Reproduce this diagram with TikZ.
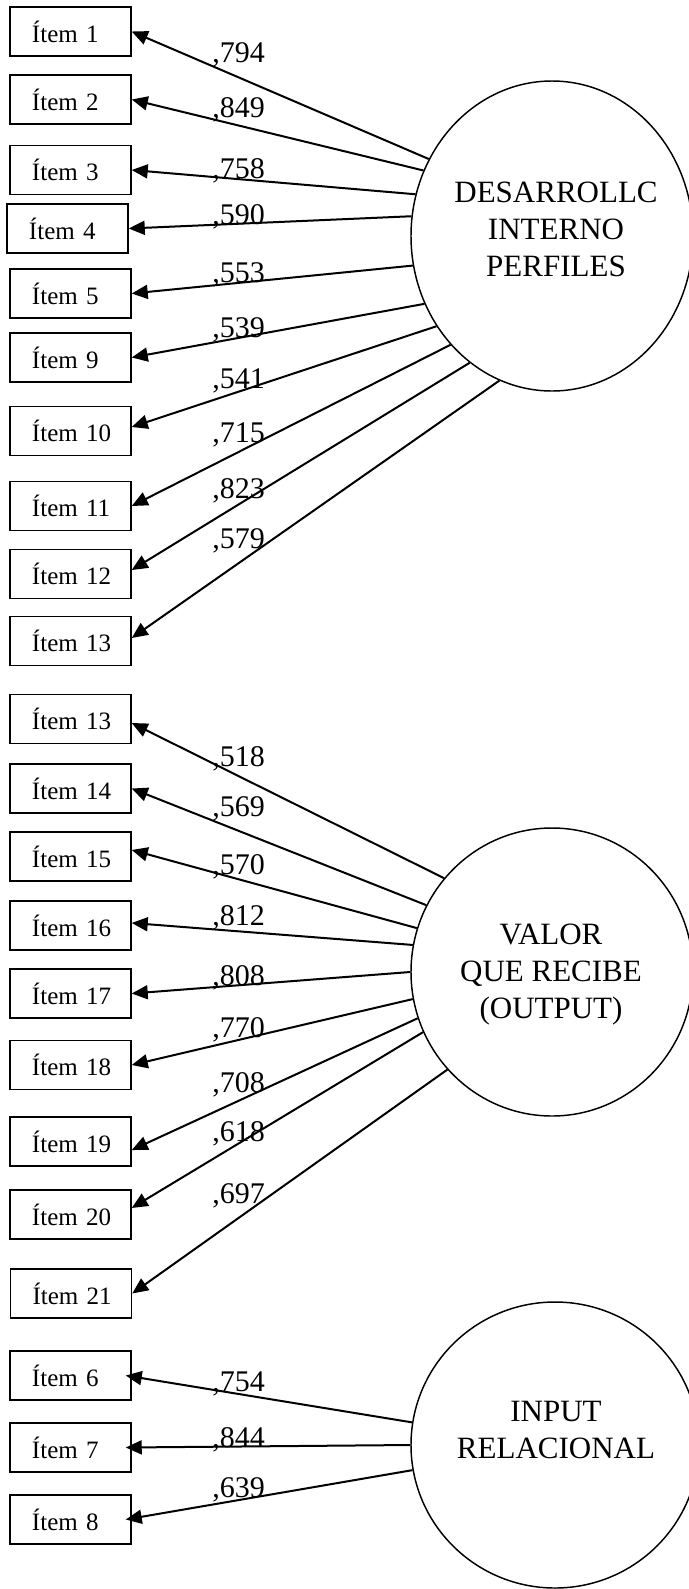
\documentclass[tikz,border=0pt]{standalone}
\usepackage{fontspec}
\setmainfont{Liberation Serif}
\usetikzlibrary{arrows.meta,shapes.geometric}
\begin{document}
\begin{tikzpicture}[x=0.75pt,y=-0.75pt,
  itembox/.style={draw,line width=1.1pt,text width=90.75pt,minimum height=36.75pt,
    inner xsep=0pt,inner ysep=0pt,align=left,font=\fontsize{18.75}{20}\selectfont},
  factor/.style={draw,ellipse,line width=1.1pt,inner sep=0pt},
  factortext/.style={align=center,inner sep=0pt,font=\fontsize{23.25}{27.75}\selectfont},
  loading/.style={line width=1.5pt,-{Triangle[length=12pt,width=10.5pt]}},
  weight/.style={anchor=base west,inner sep=0pt,font=\fontsize{22.5}{24}\selectfont}]

\useasboundingbox (0,0) rectangle (689,1589);

% ---- latent factors ----
\node[factor,minimum width=211.5pt,minimum height=232.5pt] (c1) at (552,236) {};
\node[factortext] (c1t) at (556,229) {DESARROLLC\\INTERNO\\PERFILES};
\node[factor,minimum width=211.5pt,minimum height=216pt] (c2) at (552,972) {};
\node[factortext] (c2t) at (551,975) {VALOR\\QUE RECIBE\\(OUTPUT)};
\node[factor,minimum width=216pt,minimum height=214.5pt] (c3) at (555,1445) {};
\node[factortext] (c3t) at (556,1430) {INPUT\\RELACIONAL};

% ---- indicators of the first factor ----
\node[itembox] (i1)  at (70.5,31.5)  {\hspace*{16.5pt}Ítem 1};
\node[itembox] (i2)  at (70.5,99.5)  {\hspace*{16.5pt}Ítem 2};
\node[itembox] (i3)  at (70.5,170)   {\hspace*{16.5pt}Ítem 3};
\node[itembox] (i4)  at (67.5,228.5) {\hspace*{16.5pt}Ítem 4};
\node[itembox] (i5)  at (70.5,293.5) {\hspace*{16.5pt}Ítem 5};
\node[itembox] (i9)  at (70.5,357.5) {\hspace*{16.5pt}Ítem 9};
\node[itembox] (i10) at (70.5,431)   {\hspace*{16.5pt}Ítem 10};
\node[itembox] (i11) at (70.5,506)   {\hspace*{16.5pt}Ítem 11};
\node[itembox] (i12) at (70.5,574)   {\hspace*{16.5pt}Ítem 12};
\node[itembox] (i13) at (70.5,641)   {\hspace*{16.5pt}Ítem 13};

% ---- indicators of the second factor ----
\node[itembox] (j13) at (70.5,719)    {\hspace*{16.5pt}Ítem 13};
\node[itembox] (j14) at (70.5,788.5)  {\hspace*{16.5pt}Ítem 14};
\node[itembox] (j15) at (70.5,856.5)  {\hspace*{16.5pt}Ítem 15};
\node[itembox] (j16) at (70.5,925.5)  {\hspace*{16.5pt}Ítem 16};
\node[itembox] (j17) at (70.5,993.5)  {\hspace*{16.5pt}Ítem 17};
\node[itembox] (j18) at (70.5,1065)   {\hspace*{16.5pt}Ítem 18};
\node[itembox] (j19) at (70.5,1141.5) {\hspace*{16.5pt}Ítem 19};
\node[itembox] (j20) at (70.5,1214.5) {\hspace*{16.5pt}Ítem 20};
\node[itembox] (j21) at (71,1293.5)   {\hspace*{16.5pt}Ítem 21};

% ---- indicators of the third factor ----
\node[itembox] (k6) at (70.5,1375.5) {\hspace*{16.5pt}Ítem 6};
\node[itembox] (k7) at (70.5,1447.5) {\hspace*{16.5pt}Ítem 7};
\node[itembox] (k8) at (70.5,1519.5) {\hspace*{16.5pt}Ítem 8};

% ---- loadings: first factor ----
\draw[loading] (c1.148.7) -- (i1.east);
\draw[loading] (c1.153.1) -- (i2.east);
\draw[loading] (c1.163.5) -- (i3.east);
\draw[loading] (c1.172.5) -- (i4.east);
\draw[loading] (c1.192.3) -- (i5.east);
\draw[loading] (c1.208.9) -- (i9.east);
\draw[loading] (c1.218.2) -- ([yshift=3pt]i10.east);
\draw[loading] (c1.227.7) -- (i11.east);
\draw[loading] (c1.237.2) -- ([yshift=3pt]i12.east);
\draw[loading] (c1.250)   -- ([yshift=2.25pt]i13.east);

% ---- loadings: second factor ----
\draw[loading] (c2.139.8) -- ([yshift=-3pt]j13.east);
\draw[loading] (c2.152.3) -- (j14.east);
\draw[loading] (c2.162.8) -- ([yshift=4.9pt]j15.east);
\draw[loading] (c2.169.2) -- ([yshift=1.9pt]j16.east);
\draw[loading] (c2.180)   -- (j17.east);
\draw[loading] (c2.191.2) -- (j18.east);
\draw[loading] (c2.199.2) -- ([yshift=-6.4pt]j19.east);
\draw[loading] (c2.205.3) -- ([yshift=4.9pt]j20.east);
\draw[loading] (c2.223.1) -- (j21.east);

% ---- loadings: third factor ----
\draw[loading] (c3.171.3) -- ([xshift=-4.5pt]k6.east);
\draw[loading] (c3.180)   -- ([xshift=-4.5pt]k7.east);
\draw[loading] (c3.190.6) -- ([xshift=-4.5pt]k8.east);

% ---- weight labels ----
\node[weight] (w1)  at (212,62)  {,794};
\node[weight] (w2)  at (212,117) {,849};
\node[weight] (w3)  at (212,178) {,758};
\node[weight] (w4)  at (212,224) {,590};
\node[weight] (w5)  at (212,282) {,553};
\node[weight] (w9)  at (212,337) {,539};
\node[weight] (w10) at (212,388) {,541};
\node[weight] (w11) at (212,442) {,715};
\node[weight] (w12) at (212,498) {,823};
\node[weight] (w13) at (212,548) {,579};

\node[weight] (v13) at (212,766)  {,518};
\node[weight] (v14) at (212,816)  {,569};
\node[weight] (v15) at (212,874)  {,570};
\node[weight] (v16) at (212,925)  {,812};
\node[weight] (v17) at (212,985)  {,808};
\node[weight] (v18) at (212,1037) {,770};
\node[weight] (v19) at (212,1092) {,708};
\node[weight] (v20) at (212,1141) {,618};
\node[weight] (v21) at (212,1203) {,697};

\node[weight] (u6) at (212,1391) {,754};
\node[weight] (u7) at (212,1447) {,844};
\node[weight] (u8) at (212,1497) {,639};
\end{tikzpicture}
\end{document}
